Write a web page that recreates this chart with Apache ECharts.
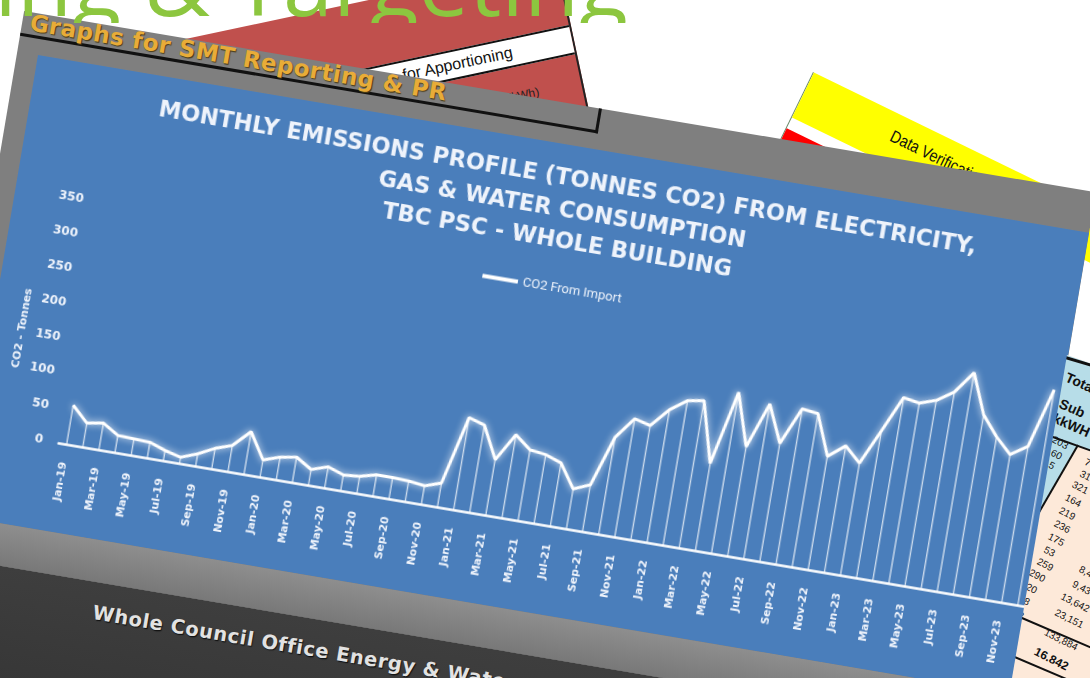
<!DOCTYPE html>
<html>
<head>
<meta charset="utf-8">
<script src="https://cdn.jsdelivr.net/npm/echarts@6/dist/echarts.min.js"></script>
<style>
  html,body{margin:0;padding:0;background:#fff;}
  #stage{position:relative;width:1090px;height:678px;overflow:hidden;background:#fff;font-family:"DejaVu Sans",sans-serif;}
  #greenclip{position:absolute;left:0;top:0;width:700px;height:23px;overflow:hidden;z-index:5;}
  #green{position:absolute;right:72px;top:-64px;font-family:"Open Sans",sans-serif;font-size:90px;line-height:90px;color:#8cc63f;white-space:nowrap;}
  #red{position:absolute;left:105px;top:-40px;width:450px;height:360px;transform-origin:100% 0;transform:rotate(-12deg);background:#c0504d;border-right:2px solid #222;}
  #red .band{position:absolute;left:0;right:0;top:66px;height:26px;background:#fff;border-top:2px solid #111;border-bottom:2px solid #111;}
  #red .band span{position:absolute;left:277px;top:4px;font-family:"Liberation Sans",Arial,sans-serif;font-size:16px;color:#111;}
  #red .kwh{position:absolute;left:375px;top:118px;font-family:"Liberation Sans",Arial,sans-serif;font-size:12px;color:#222;}
  #yellow{position:absolute;left:813px;top:72px;width:600px;height:400px;transform-origin:0 0;transform:rotate(26deg);background:#fff;border-left:1px solid #6a8a6a;}
  #yellow .y{position:absolute;left:0;right:0;top:0;height:50px;background:#ffff00;}
  #yellow .y span{position:absolute;left:97px;top:13px;font-family:"Liberation Sans",sans-serif;font-size:17px;color:#111;transform:scaleX(0.85);transform-origin:0 0;}
  #yellow .r{position:absolute;left:0;width:110px;top:62px;height:40px;background:#ff0000;}
  #panel{position:absolute;left:38.3px;top:55px;width:1066px;height:468px;transform-origin:0 0;transform:rotate(9.6deg);}
  #frame{position:absolute;left:-21px;top:-41px;width:1087px;height:551px;background:#7f7f7f;}
  #strip{position:absolute;left:-200px;top:468px;width:1266px;height:42px;background:linear-gradient(#8e8e8e,#787878);}
  #dark{position:absolute;left:-200px;top:510px;width:1266px;height:260px;background:linear-gradient(#3e3e3e,#2e2e2e);}
  #dark span{position:absolute;left:347px;top:19px;font-family:"DejaVu Sans",sans-serif;font-weight:bold;font-size:19.5px;letter-spacing:0.6px;color:#e2e2e2;text-shadow:1px 1px 1px #111;white-space:nowrap;}
  #header{position:absolute;left:-21px;top:-41px;width:583px;height:22px;border-right:3px solid #111;border-bottom:3px solid #111;}
  #header span{position:absolute;left:8px;top:-3px;font-family:"DejaVu Sans",sans-serif;font-weight:bold;font-size:23px;letter-spacing:0.5px;color:#e8ac38;text-shadow:1px 1px 1px #4a3c18;white-space:nowrap;}
  #chart{position:absolute;left:0;top:0;width:1066px;height:468px;}
  #tbl{position:absolute;left:0;top:0;width:1090px;height:678px;clip-path:polygon(1067px 355px,1090px 363px,1090px 678px,1012px 678px);background:#fde9d9;}
  #tbl .lb{position:absolute;left:0;top:0;width:1090px;height:678px;background:#b7dde8;clip-path:polygon(1067px 355px,1090px 363px,1090px 451px,1077px 445px,1033px 522px,1020px 540px,1000px 540px);}
  #tbl .ln{position:absolute;height:2px;background:#111;transform-origin:0 50%;}
  #tbl .n{position:absolute;white-space:nowrap;font-family:"Liberation Sans",Arial,sans-serif;font-size:10px;color:#111;transform-origin:50% 50%;}
</style>
</head>
<body>
<div id="stage">
  <div id="red"><div class="band"><span>for Apportioning</span></div><div class="kwh">(kWh)</div></div>
  <div id="greenclip"><div id="green">Monitoring &amp; Targeting</div></div>
  <div id="yellow"><div class="y"><span>Data Verification</span></div><div class="r"></div></div>
  <div id="panel">
    <div id="frame"></div>
    <div id="header"><span>Graphs for SMT Reporting &amp; PR</span></div>
    <div id="strip"></div>
    <div id="dark"><span>Whole Council Office Energy &amp; Water Consumption</span></div>
    <div id="chart"></div>
  </div>
  <div id="tbl"><div class="lb"></div></div>
</div>
<script>
// ---- data ----
const months = ['Jan-19','Feb-19','Mar-19','Apr-19','May-19','Jun-19','Jul-19','Aug-19','Sep-19','Oct-19','Nov-19','Dec-19',
  'Jan-20','Feb-20','Mar-20','Apr-20','May-20','Jun-20','Jul-20','Aug-20','Sep-20','Oct-20','Nov-20','Dec-20',
  'Jan-21','Feb-21','Mar-21','Apr-21','May-21','Jun-21','Jul-21','Aug-21','Sep-21','Oct-21','Nov-21','Dec-21',
  'Jan-22','Feb-22','Mar-22','Apr-22','May-22','Jun-22','Jul-22','Aug-22','Sep-22','Oct-22','Nov-22','Dec-22',
  'Jan-23','Feb-23','Mar-23','Apr-23','May-23','Jun-23','Jul-23','Aug-23','Sep-23','Oct-23','Nov-23','Dec-23'];
const co2FromImport = [57,35,39,25,24,23,15,9,18,30,38,62,
  25,33,37,23,31,23,25,31,31,30,27,35,
  134,127,81,121,103,100,92,58,68,141,172,166,
  193,210,214,127,234,159,225,172,226,223,165,184,
  163,214,266,262,270,286,318,261,233,211,227,313];
const yTicks = {min:0, max:350, step:50};
const titleLines = ['MONTHLY EMISSIONS PROFILE (TONNES CO2) FROM ELECTRICITY,','GAS & WATER CONSUMPTION','TBC PSC - WHOLE BUILDING'];
const seriesName = 'CO2 From Import';
const yAxisName = 'CO2 - Tonnes';
// partially visible spreadsheet on the right (text, position)
const tableHeader = ['Total','Sub','kWH'];
const tableCells = [
  ['203',1060,443],['60',1057,455],['5',1052,466],['7',1088,463],['31',1086,476],['321',1080,488],['164',1073,501],
  ['219',1067,514],['236',1062,527],['175',1056,540],['53',1050,552],['259',1045,565],['290',1037,576],['20',1032,589],
  ['8',1027,602],['2',1021,616],['8,4',1087,572],['9,43',1083,588],['13,642',1077,603],['23,151',1071,619],['133,884',1063,640]
];
const tableTotal = '16.842';

(function(){
  const t=document.getElementById('tbl');
  function ln(x1,y1,x2,y2,w){const d=document.createElement('div');d.className='ln';const L=Math.hypot(x2-x1,y2-y1);d.style.left=x1+'px';d.style.top=(y1-1)+'px';d.style.width=L+'px';if(w)d.style.height=w+'px';d.style.transform='rotate('+Math.atan2(y2-y1,x2-x1)+'rad)';t.appendChild(d);}
  ln(1062,356,1092,365,3); ln(1050,436,1092,451,2); ln(1078,445,1030,528,2); ln(1015,615,1092,648,2); ln(1010,655,1092,690,2);
  const hx=[[1079,383],[1073,408],[1066,425]];
  tableHeader.forEach((s,i)=>{const d=document.createElement('div');d.className='n';d.textContent=(i==2?'k':'')+s;d.style.fontSize='14px';d.style.fontWeight='bold';d.style.left=(hx[i][0]-14)+'px';d.style.top=(hx[i][1]-8)+'px';d.style.transform='rotate(24deg)';t.appendChild(d);});
  tableCells.forEach(c=>{const d=document.createElement('div');d.className='n';d.textContent=c[0];d.style.left=(c[1]-c[0].length*2.8)+'px';d.style.top=(c[2]-6)+'px';d.style.transform='rotate(27deg)';t.appendChild(d);});
  const b=document.createElement('div');b.className='n';b.textContent=tableTotal;b.style.fontWeight='bold';b.style.fontSize='12px';b.style.left='1033px';b.style.top='652px';b.style.transform='rotate(27deg)';t.appendChild(b);
})();

const chart = echarts.init(document.getElementById('chart'), null, {renderer:'canvas'});
const white = '#eef3fb';
chart.setOption({
  animation:false,
  backgroundColor:'#4a7ebb',
  graphic:[
    {type:'text', x:542.7, y:34, style:{text:titleLines[0], align:'center', verticalAlign:'middle', fill:white, font:'bold 22.5px "DejaVu Sans"'}},
    {type:'text', x:542.7, y:66, style:{text:titleLines[1], align:'center', verticalAlign:'middle', fill:white, font:'bold 22.5px "DejaVu Sans"'}},
    {type:'text', x:542.7, y:97, style:{text:titleLines[2], align:'center', verticalAlign:'middle', fill:white, font:'bold 22.5px "DejaVu Sans"'}},
    {type:'text', x:30, y:272, rotation:Math.PI/2, style:{text:yAxisName, align:'center', verticalAlign:'middle', fill:white, font:'bold 11px "DejaVu Sans"'}}
  ],
  legend:{data:[seriesName], left:470, top:132, icon:'rect', itemWidth:36, itemHeight:4, itemGap:5,
    textStyle:{color:white, fontSize:13, fontFamily:'Roboto'}},
  grid:{left:85, right:0, top:134.8, bottom:88.8},
  xAxis:{type:'category', data:months, boundaryGap:true,
    axisLine:{lineStyle:{color:'#fff', width:2.5}},
    axisTick:{interval:1, length:5, lineStyle:{color:'#fff', width:2}},
    axisLabel:{interval:1, rotate:90, margin:18, color:white, fontWeight:'bold', fontSize:11, fontFamily:'DejaVu Sans'}},
  yAxis:{type:'value', min:yTicks.min, max:yTicks.max, interval:yTicks.step,
    axisLine:{show:false}, axisTick:{show:false}, splitLine:{show:false},
    axisLabel:{color:white, fontWeight:'bold', fontSize:12, margin:16, fontFamily:'DejaVu Sans'}},
  series:[
    {name:'drop', type:'bar', data:co2FromImport, barWidth:1.4, silent:true,
      itemStyle:{color:'rgba(255,255,255,0.72)'}},
    {name:seriesName, type:'line', data:co2FromImport, symbol:'none', silent:true,
      itemStyle:{color:'#ffffff'},
      lineStyle:{color:'#ffffff', width:3, shadowColor:'rgba(255,255,255,0.95)', shadowBlur:7}}
  ]
});
</script>
</body>
</html>
